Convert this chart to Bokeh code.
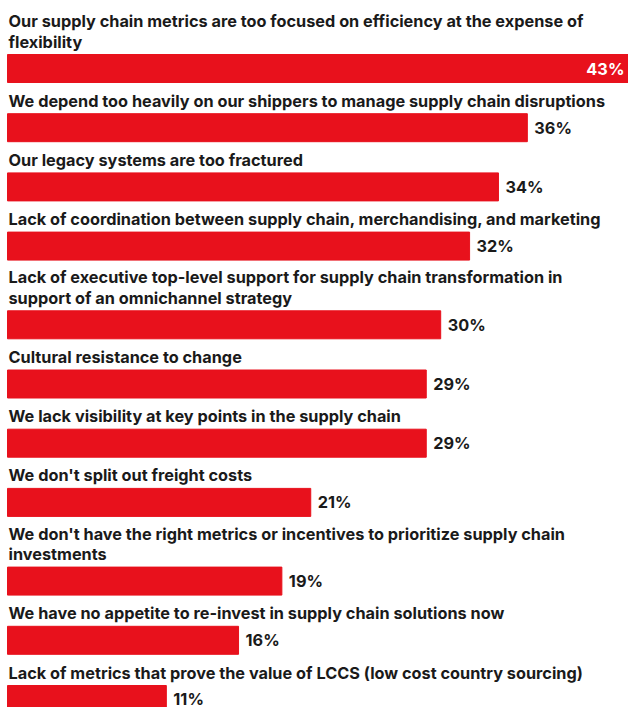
from bokeh.plotting import figure
from bokeh.models import Range1d, ColumnDataSource
from bokeh.core.properties import value
from bokeh.embed import file_html
from bokeh.resources import INLINE

categories = [
    "Our supply chain metrics are too focused on efficiency at the expense of\nflexibility",
    "We depend too heavily on our shippers to manage supply chain disruptions",
    "Our legacy systems are too fractured",
    "Lack of coordination between supply chain, merchandising, and marketing",
    "Lack of executive top-level support for supply chain transformation in\nsupport of an omnichannel strategy",
    "Cultural resistance to change",
    "We lack visibility at key points in the supply chain",
    "We don't split out freight costs",
    "We don't have the right metrics or incentives to prioritize supply chain\ninvestments",
    "We have no appetite to re-invest in supply chain solutions now",
    "Lack of metrics that prove the value of LCCS (low cost country sourcing)",
]
values = [43, 36, 34, 32, 30, 29, 29, 21, 19, 16, 11]
value_labels = [f"{v}%" for v in values]

W, H = 628, 707
RED = "#E8111C"
FONT = "Inter"
FS = "16.3px"

# layout (screen-pixel units on the y axis)
first_bar_top = 54
row_pitch = 59.2
line_step = 19.5
bar_h = 28

bar_y, lab_x, lab_y, lab_t = [], [], [], []
extra = 0
for i, cat in enumerate(categories):
    lines = cat.split("\n")
    if i > 0:
        extra += len(lines) - 1
    top = first_bar_top + i * row_pitch + extra * line_step
    bar_y.append(top + bar_h / 2)
    n = len(lines)
    for j, ln in enumerate(lines):
        lab_x.append(0)
        lab_y.append(top - 13 - (n - 1 - j) * 20.5)
        lab_t.append(ln)

px_per_unit = 14.44
left_px = 7
p = figure(width=W, height=H, output_backend="svg", toolbar_location=None,
           x_range=Range1d(-left_px / px_per_unit, (W - left_px) / px_per_unit),
           y_range=Range1d(H, 0), min_border=0)
p.axis.visible = False
p.grid.visible = False
p.outline_line_color = None
p.background_fill_color = "white"
p.border_fill_color = "white"

src = ColumnDataSource(dict(y=bar_y, v=values, t=value_labels))
p.hbar(y="y", left=0, right="v", height=bar_h, color=RED, source=src)

lsrc = ColumnDataSource(dict(x=lab_x, y=lab_y, t=lab_t))
p.text(x="x", y="y", text="t", source=lsrc, text_font=value(FONT),
       text_font_size=FS, text_font_style="bold", text_color="#1a1a1a",
       text_baseline="middle", text_align="left", x_offset=1)

inside = [i for i, v in enumerate(values) if v == max(values)]
outside = [i for i in range(len(values)) if i not in inside]
osrc = ColumnDataSource(dict(x=[values[i] for i in outside], y=[min(bar_y[i], H - 9) for i in outside],
                             t=[value_labels[i] for i in outside]))
p.text(x="x", y="y", text="t", source=osrc, text_font=value(FONT),
       text_font_size=FS, text_font_style="bold", text_color="#1a1a1a",
       text_baseline="middle", text_align="left", x_offset=7)
isrc = ColumnDataSource(dict(x=[values[i] for i in inside], y=[bar_y[i] for i in inside],
                             t=[value_labels[i] for i in inside]))
p.text(x="x", y="y", text="t", source=isrc, text_font=value(FONT),
       text_font_size=FS, text_font_style="bold", text_color="white",
       text_baseline="middle", text_align="right", x_offset=-4)

open("out.html", "w").write(file_html(p, INLINE))
